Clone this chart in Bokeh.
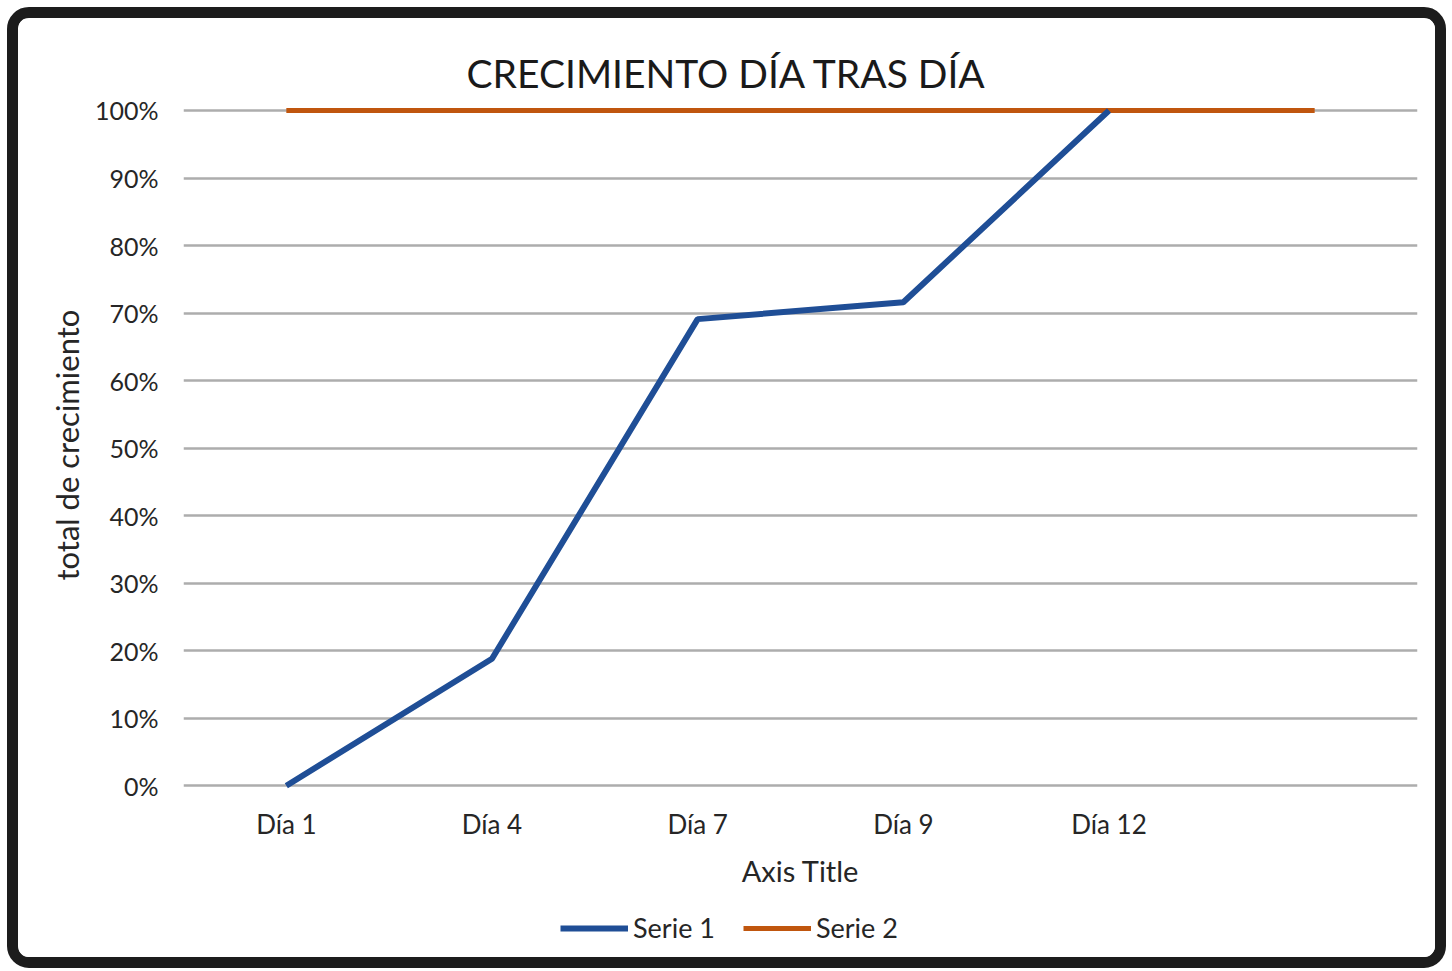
from bokeh.plotting import figure
from bokeh.models import FactorRange, Range1d, FixedTicker, NumeralTickFormatter, Legend, LegendItem, Title
from bokeh.embed import file_html
from bokeh.resources import INLINE

# ---- data ----
categories = ["Día 1", "Día 4", "Día 7", "Día 9", "Día 12", ""]
serie1_x = ["Día 1", "Día 4", "Día 7", "Día 9", "Día 12"]
serie1 = [0.0, 0.188, 0.691, 0.716, 1.0]
serie2 = [1.0, 1.0, 1.0, 1.0, 1.0, 1.0]
y_ticks = [0.0, 0.1, 0.2, 0.3, 0.4, 0.5, 0.6, 0.7, 0.8, 0.9, 1.0]

FONT = "Lato"
TXT = "#262626"

# the frame reaches down to the legend; the category axis sits at y = 0
p = figure(
    width=1439, height=961,
    x_range=FactorRange(factors=categories, range_padding=0),
    y_range=Range1d(-0.2441, 1.0059),
    output_backend="svg", toolbar_location=None,
    min_border_left=165, min_border_right=40,
    min_border_top=88, min_border_bottom=29,
)
p.styles = {"border": "11px solid #1c1c1c", "border-radius": "22px", "overflow": "hidden",
            "margin-left": "7px", "margin-top": "7px"}
p.outline_line_color = None
p.background_fill_color = "white"
p.border_fill_color = "white"

p.title.text = "CRECIMIENTO DÍA TRAS DÍA"
p.title.text_font = FONT
p.title.text_font_size = "39px"
p.title.text_font_style = "normal"
p.title.text_color = "#1a1a1a"
p.title.align = "left"
p.title.offset = 283
p.title.standoff = 22

p.xgrid.visible = False
p.ygrid.grid_line_color = "#adadad"
p.ygrid.grid_line_width = 2.5
p.ygrid.ticker = FixedTicker(ticks=y_ticks)

p.yaxis.ticker = FixedTicker(ticks=y_ticks)
p.yaxis.formatter = NumeralTickFormatter(format="0%")
p.yaxis.axis_line_color = None
p.yaxis.major_tick_line_color = None
p.yaxis.minor_tick_line_color = None
p.yaxis.major_label_text_font = FONT
p.yaxis.major_label_text_font_size = "25px"
p.yaxis.major_label_text_color = TXT
p.yaxis.major_label_standoff = 19

ylab = Title(text="total de crecimiento", align="left", offset=370,
             text_font=FONT, text_font_size="31px", text_font_style="normal",
             text_color=TXT, standoff=12)
p.add_layout(ylab, "left")

p.xaxis.fixed_location = 0
p.xaxis.axis_line_color = None
p.xaxis.major_tick_line_color = None
p.xaxis.minor_tick_line_color = None
p.xaxis.major_label_text_font = FONT
p.xaxis.major_label_text_font_size = "26px"
p.xaxis.major_label_text_color = TXT
p.xaxis.major_label_standoff = 16
p.xaxis.axis_label = "Axis Title"
p.xaxis.axis_label_text_font = FONT
p.xaxis.axis_label_text_font_size = "29px"
p.xaxis.axis_label_text_font_style = "normal"
p.xaxis.axis_label_text_color = TXT
p.xaxis.axis_label_standoff = 10

r2 = p.line(categories, serie2, line_color="#C0560E", line_width=5)
r1 = p.line(serie1_x, serie1, line_color="#1F4E96", line_width=6)

legend = Legend(
    items=[LegendItem(label="Serie 1", renderers=[r1]),
           LegendItem(label="Serie 2", renderers=[r2])],
    orientation="horizontal", location=(377, 6),
    glyph_width=68, glyph_height=20, label_standoff=5, spacing=28,
    label_text_font=FONT, label_text_font_size="27px", label_text_color=TXT,
    border_line_color=None, background_fill_alpha=0, padding=0, margin=0,
)
p.add_layout(legend, "center")

open("out.html", "w").write(file_html(p, INLINE))
